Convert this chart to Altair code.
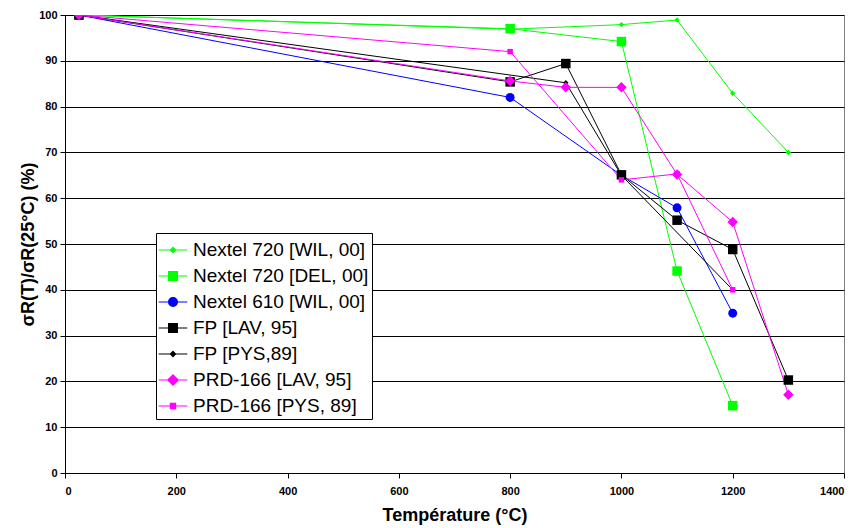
import altair as alt
import pandas as pd

series = ["Nextel 720 [WIL, 00]", "Nextel 720 [DEL, 00]", "Nextel 610 [WIL, 00]",
          "FP [LAV, 95]", "FP [PYS,89]", "PRD-166 [LAV, 95]", "PRD-166 [PYS, 89]"]
colors = ["#00FF00", "#00FF00", "#0000FF", "#000000", "#000000", "#FF00FF", "#FF00FF"]
shapes = ["diamond", "square", "circle", "square", "diamond", "diamond", "square"]
sizes = [30, 90, 80, 90, 30, 110, 30]

t_n720_wil = [25, 800, 1000, 1100, 1200, 1300]
v_n720_wil = [100, 96.9, 97.9, 98.9, 82.9, 70.0]
t_n720_del = [25, 800, 1000, 1100, 1200]
v_n720_del = [100, 97.0, 94.2, 44.1, 14.7]
t_n610_wil = [25, 800, 1000, 1100, 1200]
v_n610_wil = [100, 82.0, 65.0, 57.9, 34.9]
t_fp_lav = [25, 800, 900, 1000, 1100, 1200, 1300]
v_fp_lav = [100, 85.4, 89.4, 65.1, 55.2, 48.8, 20.3]
t_fp_pys = [25, 900, 1000, 1200]
v_fp_pys = [100, 85.2, 65.0, 40.0]
t_prd_lav = [25, 800, 900, 1000, 1100, 1200, 1300]
v_prd_lav = [100, 85.6, 84.2, 84.2, 65.2, 54.8, 17.1]
t_prd_pys = [25, 800, 1000, 1100, 1200]
v_prd_pys = [100, 92.0, 64.0, 65.3, 40.0]

all_t = [t_n720_wil, t_n720_del, t_n610_wil, t_fp_lav, t_fp_pys, t_prd_lav, t_prd_pys]
all_v = [v_n720_wil, v_n720_del, v_n610_wil, v_fp_lav, v_fp_pys, v_prd_lav, v_prd_pys]

rows = []
for i, (name, ts, vs) in enumerate(zip(series, all_t, all_v)):
    for j, (t, v) in enumerate(zip(ts, vs)):
        rows.append({"series": name, "order": i, "idx": j, "T": t, "R": v,
                     "shp": shapes[i], "sz": sizes[i], "col": colors[i]})
df = pd.DataFrame(rows)

# legend symbols: line segment with marker
L = "M-1.1,0H1.1"
def sq(h):
    return f"{L}M-{h},-{h}H{h}V{h}H-{h}Z"
def dia(h):
    return f"{L}M0,-{h}L{h},0L0,{h}L-{h},0Z"
def circ(r):
    return f"{L}M-{r},0A{r},{r},0,1,0,{r},0A{r},{r},0,1,0,-{r},0Z"
legend_paths = [dia(0.2), sq(0.34), circ(0.34), sq(0.34), dia(0.2), dia(0.4), sq(0.2)]

FONT = "Liberation Sans"
x_scale = alt.Scale(domain=[0, 1400], nice=False, zero=False)
y_scale = alt.Scale(domain=[0, 100], nice=False)

x_enc = alt.X("T:Q", scale=x_scale,
              axis=alt.Axis(title="Température (°C)", values=list(range(0, 1401, 200)),
                            grid=False, format="d"))
y_enc = alt.Y("R:Q", scale=y_scale,
              axis=alt.Axis(title="σR(T)/σR(25°C) (%)", values=list(range(0, 101, 10)),
                            grid=True, format="d"))

base = alt.Chart(df)

lines = base.mark_line(strokeWidth=1, clip=True).encode(
    x=x_enc, y=y_enc,
    stroke=alt.Stroke("col:N", scale=None),
    detail="series:N",
    order="idx:Q",
)

points = base.mark_point(filled=True, opacity=1, clip=True).encode(
    x=x_enc, y=y_enc,
    fill=alt.Fill("col:N", scale=None),
    shape=alt.Shape("shp:N", scale=None),
    size=alt.Size("sz:Q", scale=None),
)

leg = alt.Legend(title=None, orient="none", legendX=91, legendY=218,
                 labelFont=FONT, labelFontSize=19, labelColor="black", labelLimit=400,
                 symbolSize=676, symbolStrokeWidth=1.2, labelOffset=6,
                 rowPadding=2, padding=3, strokeColor="black", fillColor="white",
                 cornerRadius=0, symbolOpacity=1)

legend_layer = base.mark_point(size=676, opacity=0, filled=True).encode(
    x=x_enc, y=y_enc,
    fill=alt.Fill("series:N", scale=alt.Scale(domain=series, range=colors), legend=leg),
    stroke=alt.Stroke("series:N", scale=alt.Scale(domain=series, range=colors), legend=leg),
    shape=alt.Shape("series:N", scale=alt.Scale(domain=series, range=legend_paths), legend=leg),
)

chart = alt.layer(lines, points, legend_layer).properties(
    width=779, height=458,
    padding={"left": 11, "top": 1, "right": 5, "bottom": 5},
).configure_view(
    stroke="#808080", strokeWidth=1
).configure_axis(
    labelFont=FONT, labelFontSize=11, labelFontWeight="bold", labelColor="black",
    titleFont=FONT, titleFontSize=18, titleFontWeight="bold", titleColor="black",
    domainColor="black", tickColor="black", tickSize=5, domainWidth=1,
    gridColor="black", gridWidth=1, gridOpacity=1,
).configure_axisX(
    titlePadding=10, labelPadding=7,
).configure_axisY(
    titlePadding=1, labelPadding=3,
)

chart.save("out.html", embed_options={"renderer": "svg", "actions": False})
